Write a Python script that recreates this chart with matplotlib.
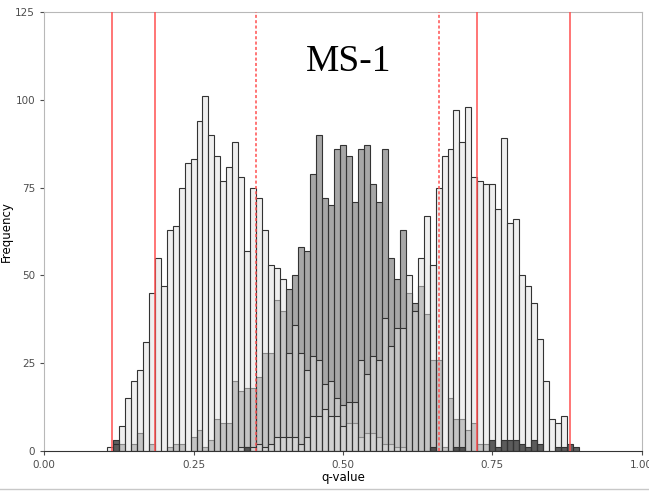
import numpy as np
import matplotlib
matplotlib.use("Agg")
import matplotlib.pyplot as plt
from matplotlib.lines import Line2D

### DATA ###

# histogram bins (centre of each 0.01 wide bin, 0.10 .. 0.90)
bin_centers = np.round(np.arange(0.10, 0.905, 0.01), 2)

# left parental group
pop1_counts = [0, 1, 2, 7, 15, 20, 23, 31, 45, 55,
               47, 63, 64, 75, 82, 83, 94, 101, 90, 84,
               77, 81, 88, 78, 57, 75, 72, 63, 53, 52,
               49, 28, 36, 28, 23, 27, 26, 19, 20, 15,
               13, 8, 8, 4, 5, 5, 4, 2, 2, 1,
               1, 0, 0, 0, 0, 0, 0, 0, 0, 0,
               0, 0, 0, 0, 0, 0, 0, 0, 0, 0,
               0, 0, 0, 0, 0, 0, 0, 0, 0, 0, 0]

# right parental group
pop2_counts = [0, 0, 0, 0, 0, 0, 0, 0, 0, 0,
               0, 0, 0, 0, 0, 0, 0, 0, 0, 0,
               0, 0, 0, 1, 1, 1, 2, 1, 2, 4,
               4, 4, 4, 2, 4, 10, 10, 12, 10, 10,
               7, 14, 14, 26, 22, 27, 26, 38, 30, 35,
               35, 50, 40, 55, 67, 53, 75, 84, 86, 97,
               88, 98, 78, 77, 76, 76, 69, 89, 65, 66,
               50, 47, 42, 32, 20, 9, 8, 10, 0, 0, 0]

# hybrids
hybrid_counts = [0, 0, 0, 2, 0, 2, 5, 0, 2, 0,
                 0, 1, 2, 2, 0, 4, 6, 1, 3, 9,
                 8, 8, 20, 17, 18, 18, 21, 28, 28, 43,
                 40, 46, 50, 58, 57, 79, 90, 72, 70, 86,
                 87, 84, 71, 86, 87, 76, 71, 86, 55, 49,
                 63, 45, 42, 47, 39, 26, 26, 1, 15, 9,
                 9, 6, 8, 2, 2, 0, 0, 0, 0, 0,
                 0, 0, 0, 0, 0, 0, 0, 0, 0, 0, 0]

# backcross group
backcross_counts = [0, 0, 3, 0, 0, 0, 0, 0, 0, 0,
                    0, 0, 0, 0, 0, 0, 0, 0, 0, 0,
                    0, 0, 0, 0, 1, 0, 0, 0, 0, 0,
                    0, 0, 0, 0, 0, 0, 0, 0, 0, 0,
                    0, 0, 0, 0, 0, 0, 0, 0, 0, 0,
                    0, 0, 0, 0, 0, 1, 0, 0, 0, 1,
                    1, 0, 0, 0, 0, 3, 1, 3, 3, 3,
                    2, 1, 3, 2, 0, 0, 1, 1, 2, 1, 0]

# thresholds
solid_lines = [0.1143, 0.1847, 0.7249, 0.8795]
dashed_lines = [0.354, 0.6605]

x_ticks = [0.0, 0.25, 0.5, 0.75, 1.0]
y_ticks = [0, 25, 50, 75, 100, 125]

### PLOT ###

fig = plt.figure(figsize=(6.49, 4.91), dpi=100)
ax = fig.add_axes([0.068, 0.0815, 0.9208, 0.8941])

def draw_hist(counts, face, alpha):
    counts = np.array(counts)
    keep = counts > 0
    ax.bar(bin_centers[keep], counts[keep], width=0.01,
           facecolor=matplotlib.colors.to_rgba(face, alpha),
           edgecolor="#333333", linewidth=0.8, zorder=2)

draw_hist(hybrid_counts, "#515151", 0.5)
draw_hist(pop1_counts, "#e1e1e1", 0.5)
draw_hist(pop2_counts, "#e1e1e1", 0.5)
draw_hist(backcross_counts, "#2a2a2a", 0.75)

for x in solid_lines:
    ax.axvline(x, color="#ff5050", linewidth=1.1, zorder=3)
for x in dashed_lines:
    ax.axvline(x, color="#ff5050", linewidth=1.1, linestyle=(0, (2, 1.5)), zorder=3)

ax.text(0.51, 110.8, "MS-1", fontsize=27, family="Liberation Serif",
        ha="center", va="center", color="black")

ax.set_xlim(0, 1)
ax.set_ylim(0, 125)
ax.set_xticks(x_ticks)
ax.set_xticklabels(["0.00", "0.25", "0.50", "0.75", "1.00"])
ax.set_yticks(y_ticks)
ax.tick_params(colors="#4d4d4d", labelsize=7.5, length=3, width=0.8)
ax.set_xlabel("q-value", fontsize=8.5)
ax.set_ylabel("Frequency", fontsize=8.5)
ax.xaxis.set_label_coords(0.5, -0.045)
ax.yaxis.set_label_coords(-0.052, 0.5)

for side in ["top", "right", "left"]:
    ax.spines[side].set_color("#b8b8b8")
ax.spines["bottom"].set_color("#333333")

# thin frame line along the bottom of the image
fig.add_artist(Line2D([0, 1], [0.004, 0.004], color="#c8c8c8",
                      linewidth=1, transform=fig.transFigure))

fig.savefig("out.png", dpi=100)
